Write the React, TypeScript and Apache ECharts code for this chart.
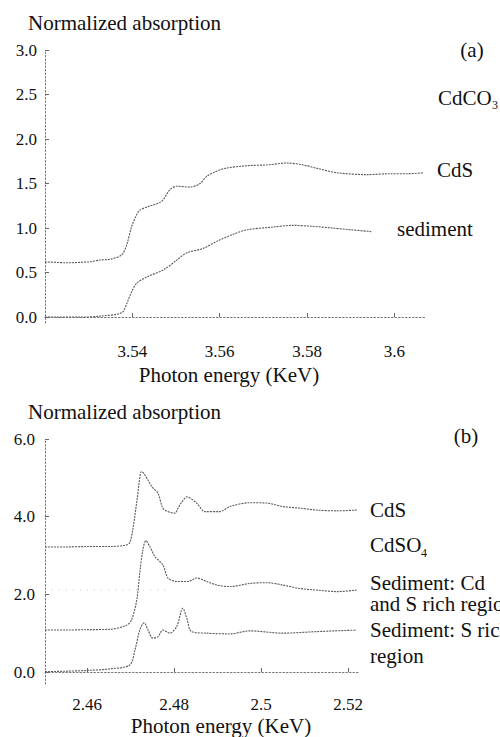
import React, { useEffect, useRef } from "react";
import * as echarts from "echarts";

// ---- Panel (a) data ----
const energyA_CdS = [3.520, 3.525, 3.530, 3.5326, 3.535, 3.5376, 3.5387, 3.5398, 3.5408, 3.5417, 3.5436, 3.5467, 3.5486, 3.5502, 3.5532, 3.5555, 3.5570, 3.5589, 3.5612, 3.5662, 3.5710, 3.5754, 3.5790, 3.5823, 3.5870, 3.5937, 3.5990, 3.6030, 3.6065];
const absA_CdS = [0.62, 0.61, 0.62, 0.64, 0.65, 0.70, 0.81, 1.01, 1.13, 1.20, 1.24, 1.30, 1.43, 1.47, 1.46, 1.50, 1.58, 1.63, 1.67, 1.70, 1.71, 1.73, 1.71, 1.67, 1.62, 1.60, 1.61, 1.61, 1.62];
const energyA_Sed = [3.520, 3.5288, 3.5326, 3.5376, 3.5387, 3.5398, 3.5410, 3.5433, 3.5471, 3.5502, 3.5524, 3.5562, 3.5593, 3.5631, 3.5662, 3.5720, 3.5767, 3.5810, 3.5858, 3.5900, 3.5947];
const absA_Sed = [0.00, 0.00, 0.01, 0.05, 0.15, 0.28, 0.38, 0.45, 0.53, 0.64, 0.72, 0.77, 0.85, 0.93, 0.98, 1.01, 1.03, 1.02, 1.00, 0.98, 0.96];
const xTicksA = [3.54, 3.56, 3.58, 3.6];
const xTickLabelsA = ["3.54", "3.56", "3.58", "3.6"];
const yTicksA = [0, 0.5, 1.0, 1.5, 2.0, 2.5, 3.0];

// ---- Panel (b) data ----
const energyB_CdS = [2.4503, 2.455, 2.460, 2.4652, 2.4690, 2.4698, 2.4705, 2.4715, 2.4725, 2.4730, 2.4740, 2.4749, 2.4763, 2.4774, 2.4786, 2.4802, 2.4809, 2.4818, 2.4829, 2.4852, 2.4871, 2.4905, 2.4928, 2.4974, 2.5013, 2.5050, 2.5089, 2.5128, 2.5174, 2.5220];
const absB_CdS = [3.22, 3.22, 3.23, 3.23, 3.27, 3.33, 3.67, 4.45, 5.16, 5.12, 4.94, 4.77, 4.60, 4.22, 4.13, 4.09, 4.22, 4.38, 4.51, 4.35, 4.13, 4.13, 4.26, 4.36, 4.35, 4.26, 4.22, 4.17, 4.15, 4.17];
const energyB_CdSO4 = [2.4503, 2.4780];
const absB_CdSO4 = [2.11, 2.11];
const energyB_SedCdS = [2.4503, 2.455, 2.460, 2.4652, 2.4690, 2.4702, 2.4714, 2.4721, 2.4728, 2.4735, 2.4744, 2.4756, 2.4774, 2.4786, 2.4806, 2.4832, 2.4852, 2.4875, 2.4898, 2.4928, 2.4974, 2.5013, 2.5050, 2.5089, 2.5128, 2.5174, 2.5220];
const absB_SedCdS = [1.08, 1.08, 1.09, 1.10, 1.20, 1.34, 1.85, 2.55, 3.14, 3.38, 3.23, 2.97, 2.76, 2.42, 2.33, 2.33, 2.42, 2.33, 2.24, 2.20, 2.28, 2.30, 2.24, 2.15, 2.11, 2.07, 2.11];
const energyB_SedS = [2.4503, 2.455, 2.460, 2.4652, 2.4698, 2.4710, 2.4721, 2.4731, 2.4740, 2.4751, 2.4763, 2.4774, 2.4790, 2.4806, 2.4820, 2.4829, 2.4840, 2.4875, 2.4928, 2.4974, 2.5050, 2.5128, 2.5220];
const absB_SedS = [0.01, 0.02, 0.04, 0.08, 0.18, 0.57, 1.08, 1.27, 1.08, 0.87, 0.91, 1.08, 1.00, 1.17, 1.64, 1.39, 1.04, 1.00, 0.98, 1.06, 1.00, 1.04, 1.08];
const xTicksB = [2.46, 2.48, 2.5, 2.52];
const xTickLabelsB = ["2.46", "2.48", "2.5", "2.52"];
const yTicksB = [0, 2, 4, 6];

const FONT = "Liberation Serif";
const LINE_COLOR = "#5a5a5a";

const zip = (xs: number[], ys: number[]) => xs.map((x, i) => [x, ys[i]]);

export default function App() {
  const ref = useRef<HTMLDivElement>(null);
  useEffect(() => {
    if (!ref.current) return;
    const chart = echarts.init(ref.current, null, { renderer: "svg" });
    const axisLine = { show: true, lineStyle: { color: "#777", type: [1.5, 2] as any, width: 1 } };
    const tickLabel = { color: "#111", fontFamily: FONT, fontSize: 17 };
    const lineSeries = (name: string, xi: number, data: number[][], color = LINE_COLOR, dash: any = [2, 1]) => ({
      name,
      type: "line",
      xAxisIndex: xi,
      yAxisIndex: xi,
      data,
      showSymbol: false,
      symbol: "none",
      smooth: 0.3,
      lineStyle: { color, width: 1.1, type: dash },
      clip: false,
    });
    const text = (x: number, y: number, t: string, size = 21, align = "left", lineHeight?: number) => ({
      type: "text",
      x,
      y,
      style: { text: t, fontFamily: FONT, fontSize: size, fill: "#111", align, verticalAlign: "middle", lineHeight },
    });
    chart.setOption({
      animation: false,
      backgroundColor: "#fff",
      grid: [
        { left: 45, top: 50, width: 380, height: 273 },
        { left: 45, top: 439, width: 313, height: 245 },
      ],
      xAxis: [
        {
          gridIndex: 0, type: "value", min: 3.52, max: 3.607,
          axisLine, splitLine: { show: false },
          axisTick: { show: true, inside: true, length: 4, customValues: xTicksA, lineStyle: { color: "#666" } },
          axisLabel: { ...tickLabel, margin: 20, customValues: xTicksA, formatter: (v: number) => xTickLabelsA[xTicksA.findIndex((t) => Math.abs(t - v) < 1e-6)] ?? "" },
        },
        {
          gridIndex: 1, type: "value", min: 2.4503, max: 2.5223,
          axisLine, splitLine: { show: false },
          axisTick: { show: true, inside: true, length: 4, customValues: xTicksB, lineStyle: { color: "#666" } },
          axisLabel: { ...tickLabel, margin: 12, customValues: xTicksB, formatter: (v: number) => xTickLabelsB[xTicksB.findIndex((t) => Math.abs(t - v) < 1e-6)] ?? "" },
        },
      ],
      yAxis: [
        {
          gridIndex: 0, type: "value", min: -0.067, max: 3.0,
          axisLine, splitLine: { show: false },
          axisTick: { show: true, inside: true, length: 4, customValues: yTicksA, lineStyle: { color: "#666" } },
          axisLabel: { ...tickLabel, margin: 8, customValues: yTicksA, formatter: (v: number) => v.toFixed(1) },
        },
        {
          gridIndex: 1, type: "value", min: -0.309, max: 6.0,
          axisLine, splitLine: { show: false },
          axisTick: { show: true, inside: true, length: 4, customValues: yTicksB, lineStyle: { color: "#666" } },
          axisLabel: { ...tickLabel, margin: 10, customValues: yTicksB, formatter: (v: number) => v.toFixed(1) },
        },
      ],
      series: [
        lineSeries("CdS (a)", 0, zip(energyA_CdS, absA_CdS)),
        lineSeries("sediment (a)", 0, zip(energyA_Sed, absA_Sed)),
        lineSeries("CdS (b)", 1, zip(energyB_CdS, absB_CdS)),
        lineSeries("CdSO4 (b)", 1, zip(energyB_CdSO4, absB_CdSO4), "#c4c4c4", [1, 6]),
        lineSeries("Sediment Cd and S rich", 1, zip(energyB_SedCdS, absB_SedCdS)),
        lineSeries("Sediment S rich", 1, zip(energyB_SedS, absB_SedS)),
      ],
      graphic: [
        text(28, 23, "Normalized absorption"),
        text(472, 50, "(a)", 21, "center"),
        text(438, 98, "CdCO"),
        text(492, 105, "3", 12),
        text(437, 170, "CdS"),
        text(397, 229, "sediment"),
        text(229, 375, "Photon energy (KeV)", 21, "center"),
        text(28, 412, "Normalized absorption"),
        text(466, 436, "(b)", 21, "center"),
        text(370, 510, "CdS"),
        text(370, 545, "CdSO"),
        text(421, 553, "4", 12),
        text(370, 593, "Sediment: Cd\nand S rich region", 21, "left", 21),
        text(370, 643, "Sediment: S rich\nregion", 21, "left", 26),
        text(221, 726, "Photon energy (KeV)", 21, "center"),
      ],
    });
    return () => chart.dispose();
  }, []);
  return (
    <div
      ref={ref}
      style={{ position: "fixed", left: 0, top: 0, width: 500, height: 737, background: "#fff" }}
    />
  );
}
